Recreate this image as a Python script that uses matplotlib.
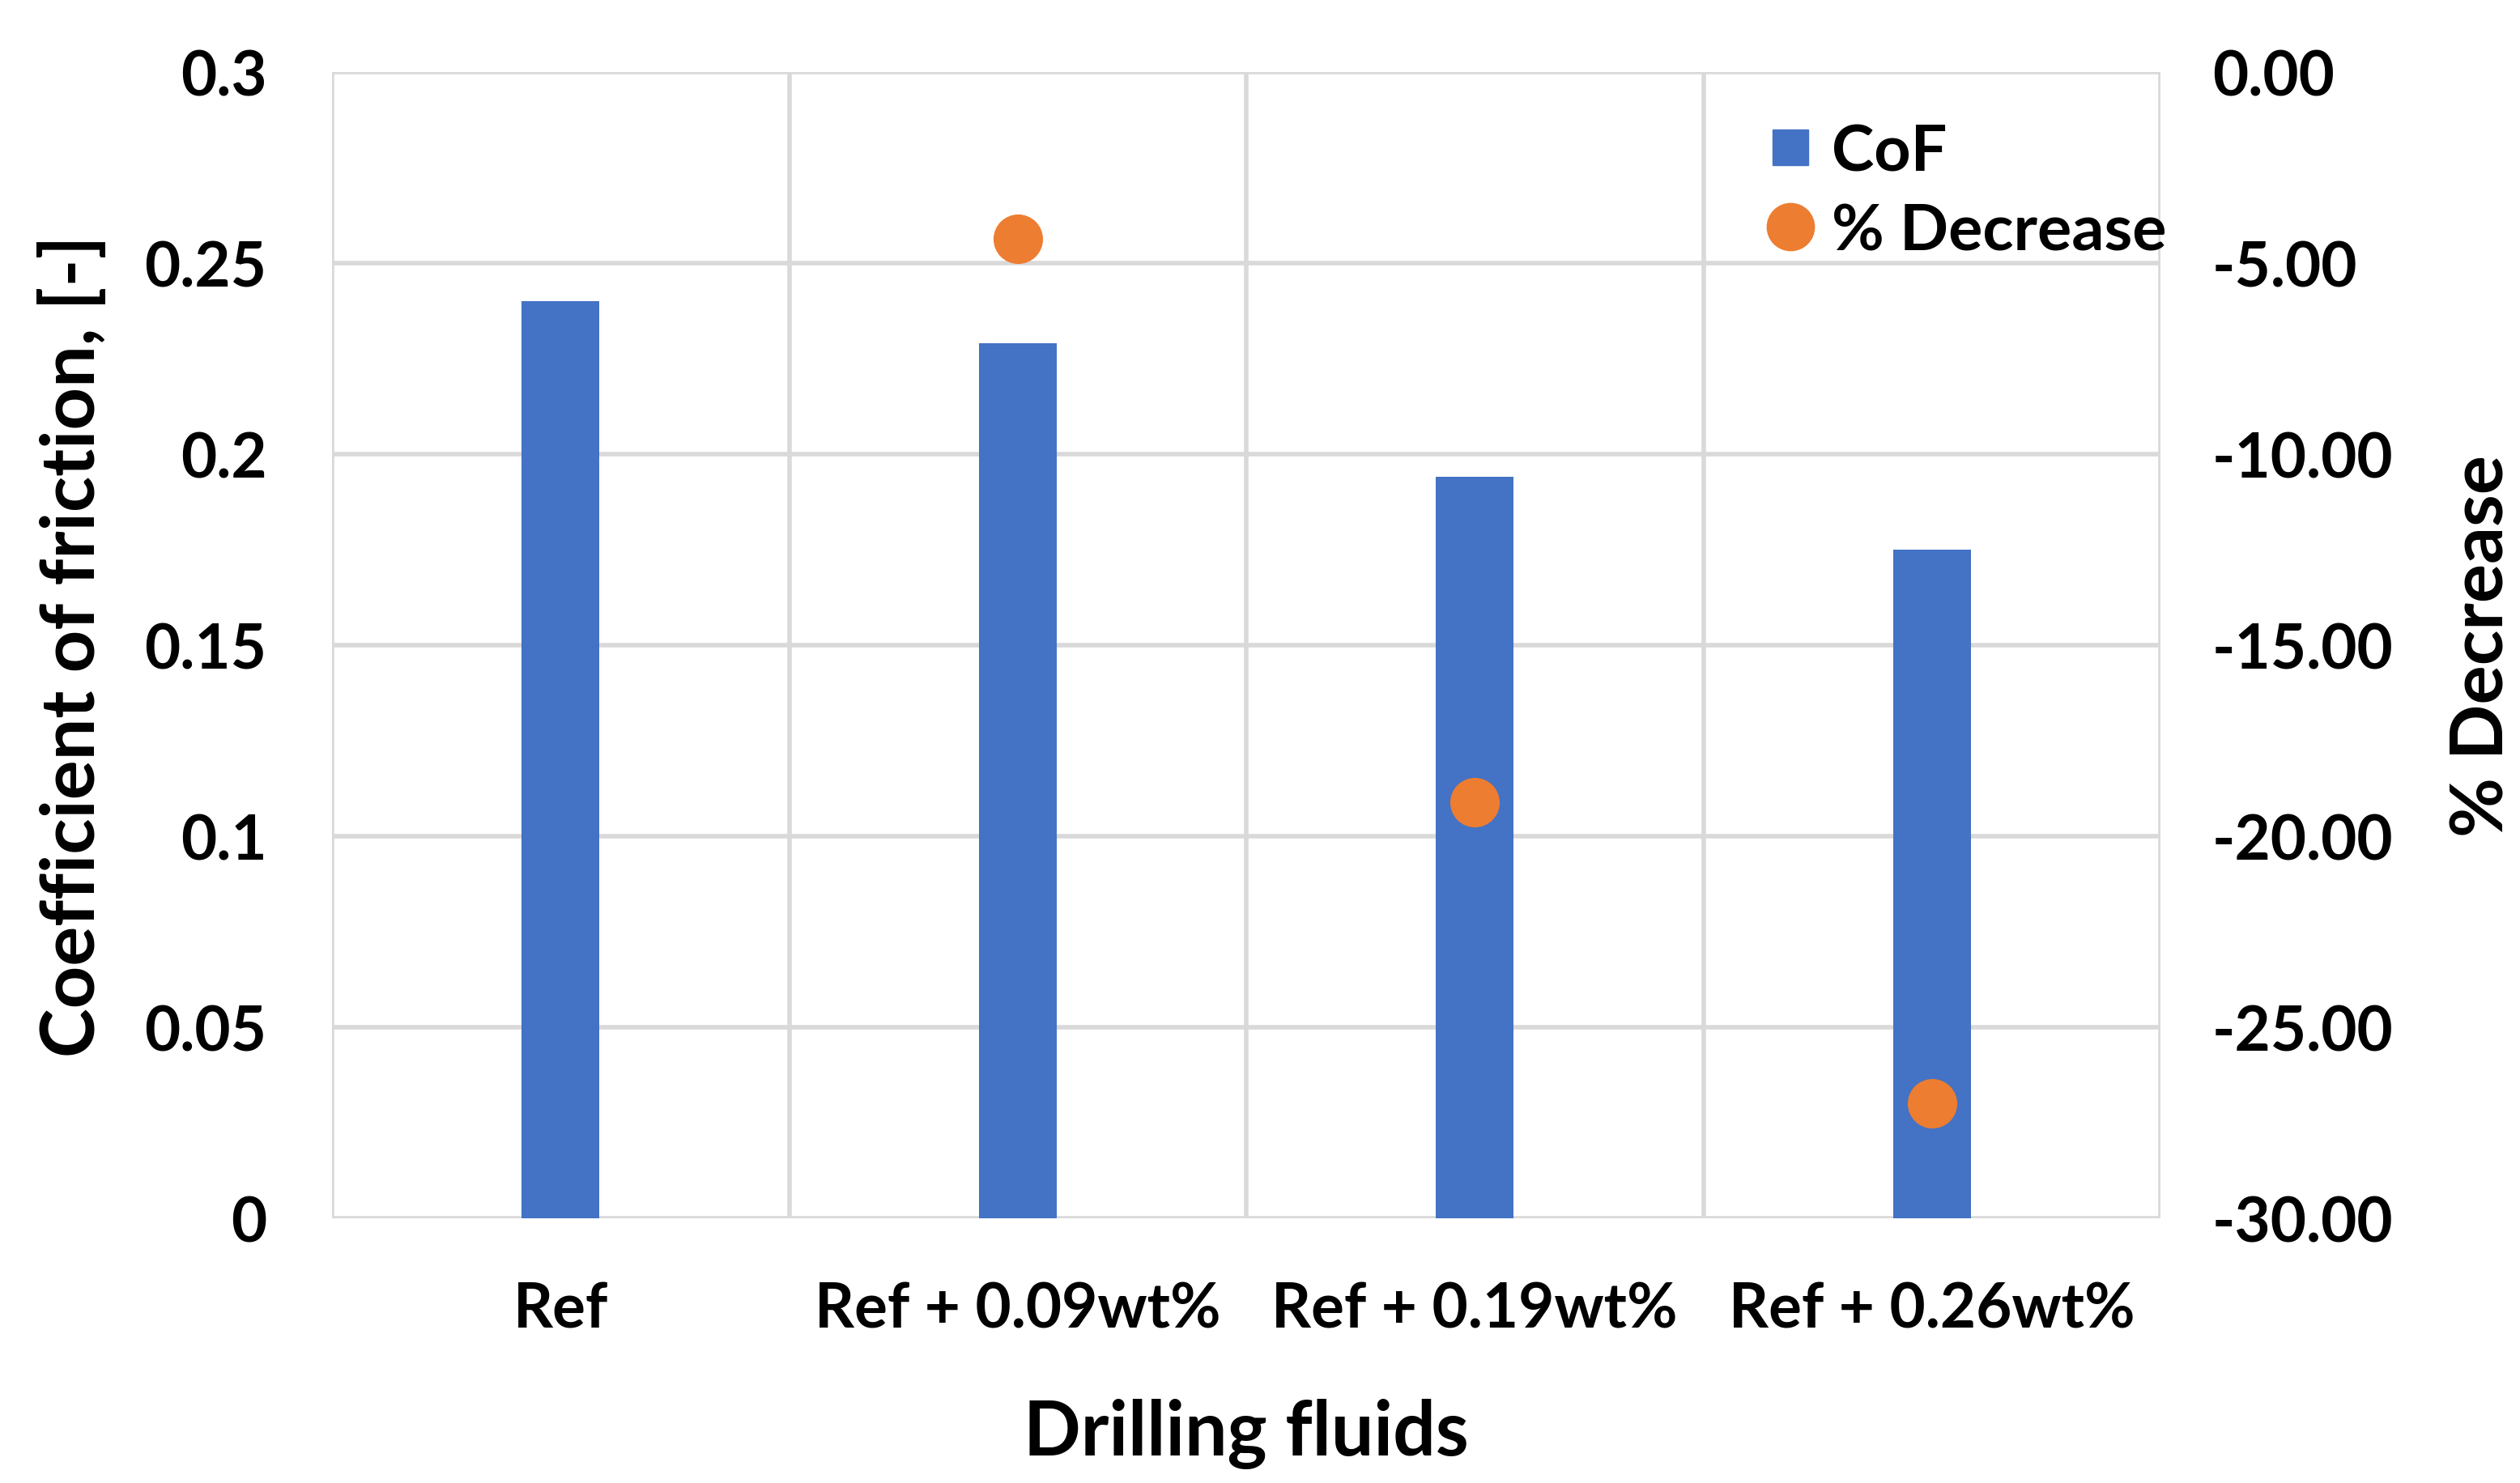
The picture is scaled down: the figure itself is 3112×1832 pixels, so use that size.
import matplotlib
matplotlib.use("Agg")
import matplotlib.pyplot as plt
from matplotlib.lines import Line2D
import numpy as np

plt.rcParams['font.family'] = ['Lato', 'DejaVu Sans']
plt.rcParams['font.weight'] = 'bold'

categories = ["Ref", "Ref + 0.09wt%", "Ref + 0.19wt%", "Ref + 0.26wt%"]
cof = [0.240, 0.229, 0.194, 0.175]
pct_decrease = [None, -4.36, -19.11, -26.99]
left_ticks = [0, 0.05, 0.1, 0.15, 0.2, 0.25, 0.3]
left_ticklabels = ["0", "0.05", "0.1", "0.15", "0.2", "0.25", "0.3"]
right_ticks = [0, -5, -10, -15, -20, -25, -30]

W, H = 3112, 1833
fig = plt.figure(figsize=(W / 100, H / 100), dpi=100)
ax = fig.add_axes([410 / W, 1 - 1506 / H, (2668 - 410) / W, (1506 - 90) / H])

grid_c = "#d9d9d9"
blue = "#4472c4"
orange = "#ed7d31"

x = np.arange(len(categories))
ax.bar(x, cof, width=0.17, color=blue, zorder=3)
ax.set_xlim(-0.5, len(categories) - 0.5)
ax.set_ylim(0, 0.3)
ax.set_yticks(left_ticks)
ax.set_yticklabels(left_ticklabels)
ax.set_xticks(x)
ax.set_xticklabels(categories)

# gridlines
for t in left_ticks:
    ax.axhline(t, color=grid_c, lw=4.0, zorder=1)
for b in np.arange(-0.5, len(categories), 1.0):
    ax.axvline(b, color=grid_c, lw=4.0, zorder=1)
for s in ax.spines.values():
    s.set_visible(False)

ax.tick_params(axis='both', length=0, labelsize=55)
ax.tick_params(axis='y', pad=58)
ax.tick_params(axis='x', pad=56)

ax2 = ax.twinx()
ax2.set_ylim(-30, 0)
ax2.set_yticks(right_ticks)
ax2.set_yticklabels([f"{v:.2f}" for v in right_ticks])
ax2.tick_params(axis='y', length=0, labelsize=55, pad=46)
for s in ax2.spines.values():
    s.set_visible(False)

px = [xi for xi, v in zip(x, pct_decrease) if v is not None]
py = [v for v in pct_decrease if v is not None]
ax2.plot(px, py, linestyle='none', marker='o', markersize=43, color=orange, zorder=4)

ax.set_ylabel("Coefficient of friction, [-]", fontsize=66, fontweight='bold')
ax.yaxis.set_label_coords(-0.1226, 0.5)
ax2.set_ylabel("% Decrease", fontsize=65, fontweight='bold')
ax2.yaxis.set_label_coords(1.158, 0.5)
ax.set_xlabel("Drilling fluids", fontsize=67, fontweight='bold')
ax.xaxis.set_label_coords(0.5, -0.157)

handles = [
    Line2D([], [], linestyle='none', marker='s', markersize=32, color=blue),
    Line2D([], [], linestyle='none', marker='o', markersize=42, color=orange),
]
leg = ax2.legend(handles, ["CoF", "% Decrease"], loc='upper left',
                 bbox_to_anchor=((2175 - 410) / 2258, 1 - (153 - 90) / 1416),
                 frameon=False, fontsize=57, handlelength=0.9, handletextpad=0.2,
                 labelspacing=0.33, borderaxespad=0, borderpad=0)

fig.savefig("out.png", dpi=100, facecolor='white')
